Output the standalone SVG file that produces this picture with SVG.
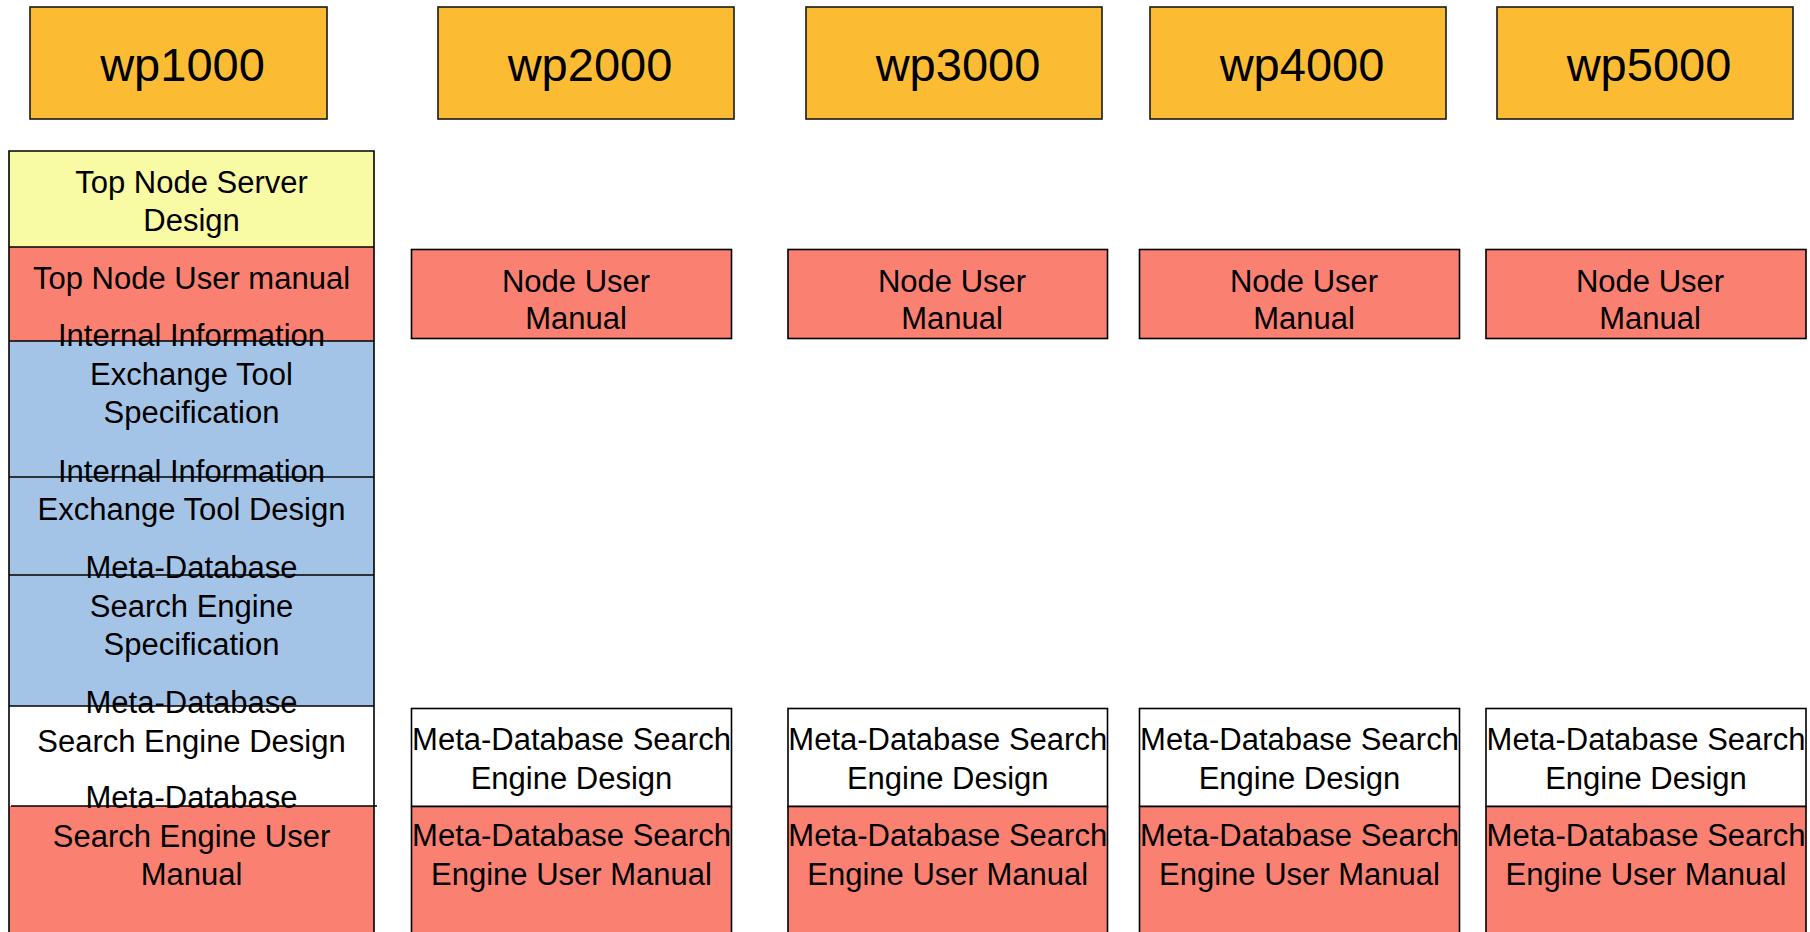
<svg xmlns="http://www.w3.org/2000/svg" width="1810" height="932" viewBox="0 0 1810 932">
<style>
text{font-family:"Liberation Sans",Arial,sans-serif;fill:#000;text-anchor:middle}
.wp{fill:#FBBC33;stroke:#1a1a1a;stroke-width:1.6}
.wpt{font-size:47px}
.t{font-size:31px}
.red{fill:#FA8072}
.yel{fill:#F9FBA4}
.blue{fill:#A4C4E7}
.wht{fill:#FFFFFF}
.box{stroke:#000;stroke-width:1.6}
.sep{stroke:#000;stroke-width:1.6;fill:none}
</style>
<rect width="1810" height="932" fill="#fff"/>

<g id="wp1000"><rect class="wp" x="30" y="7" width="297" height="112"/><text class="wpt" x="182.5" y="81">wp1000</text></g>
<g id="wp2000"><rect class="wp" x="438" y="7" width="296" height="112"/><text class="wpt" x="590" y="81">wp2000</text></g>
<g id="wp3000"><rect class="wp" x="806" y="7" width="296" height="112"/><text class="wpt" x="958" y="81">wp3000</text></g>
<g id="wp4000"><rect class="wp" x="1150" y="7" width="296" height="112"/><text class="wpt" x="1302" y="81">wp4000</text></g>
<g id="wp5000"><rect class="wp" x="1497" y="7" width="296" height="112"/><text class="wpt" x="1649" y="81">wp5000</text></g>

<g id="col1">
  <rect class="yel" x="9" y="151" width="365" height="96"/>
  <rect class="red" x="9" y="247" width="365" height="94"/>
  <rect class="blue" x="9" y="341" width="365" height="365"/>
  <rect class="wht" x="9" y="706" width="365" height="100"/>
  <rect class="red" x="9" y="806" width="365" height="140"/>
  <path class="sep" d="M9,946 V151 H374 V946"/>
  <path class="sep" d="M9,247 H374 M9,341 H374 M9,477 H374 M9,575 H374 M9,706 H374 M11,806 H377"/>
  <g id="top-node-server-design"><text class="t" x="191.5" y="193">Top Node Server</text><text class="t" x="191.5" y="231">Design</text></g>
  <g id="top-node-user-manual"><text class="t" x="191.5" y="289">Top Node User manual</text></g>
  <g id="iiet-spec"><text class="t" x="191.5" y="346">Internal Information</text><text class="t" x="191.5" y="385">Exchange Tool</text><text class="t" x="191.5" y="423">Specification</text></g>
  <g id="iiet-design"><text class="t" x="191.5" y="482">Internal Information</text><text class="t" x="191.5" y="520">Exchange Tool Design</text></g>
  <g id="mdse-spec"><text class="t" x="191.5" y="578">Meta-Database</text><text class="t" x="191.5" y="617">Search Engine</text><text class="t" x="191.5" y="655">Specification</text></g>
  <g id="mdse-design-1"><text class="t" x="191.5" y="713">Meta-Database</text><text class="t" x="191.5" y="752">Search Engine Design</text></g>
  <g id="mdse-manual-1"><text class="t" x="191.5" y="808">Meta-Database</text><text class="t" x="191.5" y="847">Search Engine User</text><text class="t" x="191.5" y="885">Manual</text></g>
</g>

<g id="nodeuser-2"><rect class="red box" x="411.5" y="249.5" width="320" height="89"/><text class="t" x="576" y="292">Node User</text><text class="t" x="576" y="329">Manual</text></g>
<g id="nodeuser-3"><rect class="red box" x="788" y="249.5" width="319.5" height="89"/><text class="t" x="952" y="292">Node User</text><text class="t" x="952" y="329">Manual</text></g>
<g id="nodeuser-4"><rect class="red box" x="1139.5" y="249.5" width="320" height="89"/><text class="t" x="1304" y="292">Node User</text><text class="t" x="1304" y="329">Manual</text></g>
<g id="nodeuser-5"><rect class="red box" x="1486" y="249.5" width="320" height="89"/><text class="t" x="1650" y="292">Node User</text><text class="t" x="1650" y="329">Manual</text></g>

<g id="mdse-2">
  <rect class="wht box" x="411.5" y="708.5" width="320" height="98"/>
  <rect class="red box" x="411.5" y="806.5" width="320" height="140"/>
  <text class="t" x="571.5" y="750">Meta-Database Search</text><text class="t" x="571.5" y="789">Engine Design</text>
  <text class="t" x="571.5" y="846">Meta-Database Search</text><text class="t" x="571.5" y="885">Engine User Manual</text>
</g>
<g id="mdse-3">
  <rect class="wht box" x="788" y="708.5" width="319.5" height="98"/>
  <rect class="red box" x="788" y="806.5" width="319.5" height="140"/>
  <text class="t" x="947.75" y="750">Meta-Database Search</text><text class="t" x="947.75" y="789">Engine Design</text>
  <text class="t" x="947.75" y="846">Meta-Database Search</text><text class="t" x="947.75" y="885">Engine User Manual</text>
</g>
<g id="mdse-4">
  <rect class="wht box" x="1139.5" y="708.5" width="320" height="98"/>
  <rect class="red box" x="1139.5" y="806.5" width="320" height="140"/>
  <text class="t" x="1299.5" y="750">Meta-Database Search</text><text class="t" x="1299.5" y="789">Engine Design</text>
  <text class="t" x="1299.5" y="846">Meta-Database Search</text><text class="t" x="1299.5" y="885">Engine User Manual</text>
</g>
<g id="mdse-5">
  <rect class="wht box" x="1486" y="708.5" width="320" height="98"/>
  <rect class="red box" x="1486" y="806.5" width="320" height="140"/>
  <text class="t" x="1646" y="750">Meta-Database Search</text><text class="t" x="1646" y="789">Engine Design</text>
  <text class="t" x="1646" y="846">Meta-Database Search</text><text class="t" x="1646" y="885">Engine User Manual</text>
</g>
<g id="connectors"/>
</svg>
